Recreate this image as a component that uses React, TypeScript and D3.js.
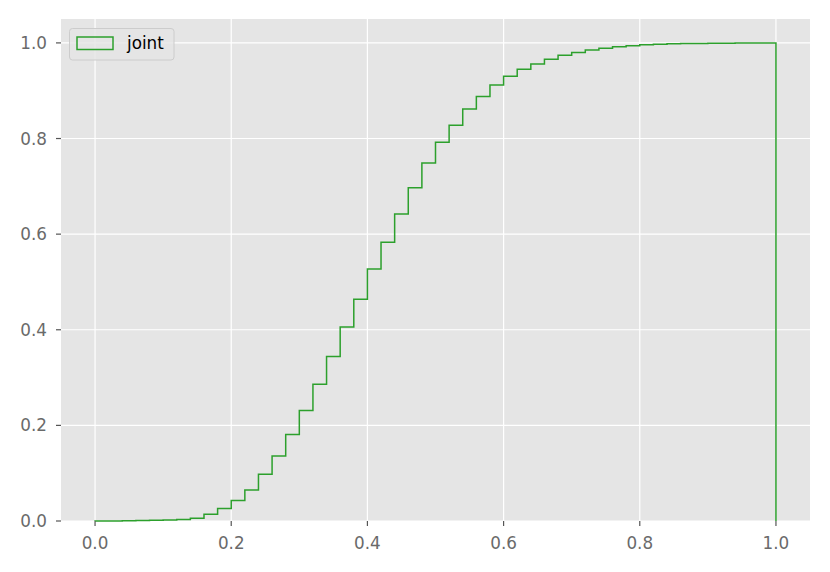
import React from "react";
import * as d3 from "d3";

const binEdges: number[] = Array.from({ length: 51 }, (_, i) => +(i * 0.02).toFixed(2));
const cumValues: number[] = [
  0.00005, 0.0002, 0.0005, 0.001, 0.0015, 0.002, 0.003, 0.006, 0.014, 0.026,
  0.043, 0.065, 0.098, 0.136, 0.181, 0.231, 0.286, 0.344, 0.406, 0.464,
  0.527, 0.583, 0.642, 0.697, 0.749, 0.792, 0.828, 0.862, 0.888, 0.912,
  0.93, 0.945, 0.956, 0.966, 0.974, 0.98, 0.985, 0.989, 0.992, 0.994,
  0.996, 0.997, 0.998, 0.9985, 0.999, 0.9993, 0.9995, 0.9997, 0.9999, 1.0,
];
const xTicks: number[] = [0, 0.2, 0.4, 0.6, 0.8, 1.0];
const yTicks: number[] = [0, 0.2, 0.4, 0.6, 0.8, 1.0];
const seriesName = "joint";

const W = 830, H = 572;
const L = 61, R = 810, T = 19, B = 521;

export default function App() {
  const x = d3.scaleLinear().domain([-0.05, 1.05]).range([L, R]);
  const y = d3.scaleLinear().domain([0, 1.05]).range([B, T]);
  const pts: [number, number][] = [[binEdges[0], 0]];
  cumValues.forEach((v, i) => {
    pts.push([binEdges[i], v]);
    pts.push([binEdges[i + 1], v]);
  });
  pts.push([binEdges[binEdges.length - 1], 0]);
  const line = d3.line<[number, number]>().x((d) => x(d[0])).y((d) => y(d[1]));
  const green = "#2ca02c";
  const font = "DejaVu Sans, sans-serif";
  const fs = 16.8;
  return (
    <svg width={W} height={H} style={{ position: "absolute", left: 0, top: 0 }}>
      <rect width={W} height={H} fill="#fff" />
      <rect x={L} y={T} width={R - L} height={B - T} fill="#E5E5E5" />
      {xTicks.map((t) => (
        <line key={"gx" + t} x1={x(t)} x2={x(t)} y1={T} y2={B} stroke="#fff" strokeWidth={1.2} />
      ))}
      {yTicks.map((t) => (
        <line key={"gy" + t} x1={L} x2={R} y1={y(t)} y2={y(t)} stroke="#fff" strokeWidth={1.2} />
      ))}
      <path d={line(pts) || ""} fill="none" stroke={green} strokeWidth={1.5} strokeLinejoin="miter" />
      {xTicks.map((t) => (
        <g key={"tx" + t}>
          <line x1={x(t)} x2={x(t)} y1={B} y2={B + 5} stroke="#555" strokeWidth={1.2} />
          <text x={x(t)} y={548.5} textAnchor="middle" fontFamily={font} fontSize={fs} fill="#6a6a6a">
            {t.toFixed(1)}
          </text>
        </g>
      ))}
      {yTicks.map((t) => (
        <g key={"ty" + t}>
          <line x1={L - 5} x2={L} y1={y(t)} y2={y(t)} stroke="#555" strokeWidth={1.2} />
          <text x={47} y={y(t)} dy="0.36em" textAnchor="end" fontFamily={font} fontSize={fs} fill="#6a6a6a">
            {t.toFixed(1)}
          </text>
        </g>
      ))}
      <g>
        <rect x={69.5} y={28.5} width={104.5} height={31.5} rx={3} fill="#E5E5E5" fillOpacity={0.8} stroke="#cccccc" strokeWidth={1} />
        <rect x={77} y={37} width={36} height={12.5} fill="none" stroke={green} strokeWidth={1.5} />
        <text x={127} y={49.3} fontFamily={font} fontSize={fs} fill="#000">
          {seriesName}
        </text>
      </g>
    </svg>
  );
}
